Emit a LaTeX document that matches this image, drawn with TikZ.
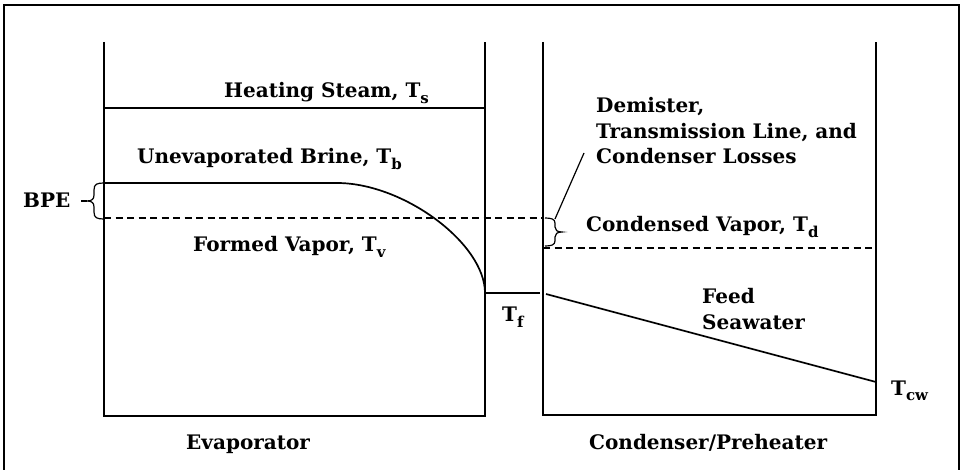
\documentclass[tikz,border=0pt]{standalone}
\usepackage{fontspec}
\setmainfont{DejaVu Serif}
\newcommand\lowsub[1]{\raisebox{-0.5ex}{\fontsize{15}{15}\selectfont #1}}
\begin{document}
\begin{tikzpicture}[x=1pt,y=-1pt,
  wall/.style={line width=1.7pt},
  level/.style={line width=1.7pt},
  vapourline/.style={line width=1.4pt, dash pattern=on 7pt off 4.5pt},
  bracemark/.style={line width=1.2pt},
  lbl/.style={font=\bfseries\fontsize{20}{24}\selectfont, inner sep=0pt, anchor=base west},
]
\useasboundingbox (0,0) rectangle (961,470);
% outer frame
\draw[line width=1.2pt] (4,472) -- (4,5) -- (959,5) -- (959,472);

% evaporator vessel
\coordinate (eTL) at (104,42);
\coordinate (eBL) at (104,416);
\coordinate (eBR) at (485,416);
\coordinate (eTR) at (485,42);
\draw[wall] (eTL) -- (eBL) -- (eBR) -- (eTR);

% condenser / preheater vessel
\coordinate (cTL) at (543,42);
\coordinate (cBL) at (543,415);
\coordinate (cBR) at (876,415);
\coordinate (cTR) at (876,42);
\draw[wall] (cTL) -- (cBL) -- (cBR) -- (cTR);

% temperature levels
\coordinate (steamL) at (104,108);
\coordinate (steamR) at (485,108);
\draw[level] (steamL) -- (steamR);

\coordinate (brineL) at (104,183);
\coordinate (brineK) at (337,183);
\coordinate (feedIn) at (485,293);
\draw[level] (brineL) -- (brineK) .. controls (403.6,183) and (485,243.5) .. (feedIn);

\coordinate (tfR) at (540,293);
\draw[level] (feedIn) -- (tfR);

\coordinate (swL) at (546,294);
\coordinate (swR) at (876,382);
\draw[level] (swL) -- (swR);

\coordinate (vapL) at (104,218);
\coordinate (vapR) at (543,218);
\draw[vapourline] (vapL) -- (vapR);

\coordinate (condL) at (543,248);
\coordinate (condR) at (876,248);
\draw[vapourline] (condL) -- (condR);

% boiling point elevation brace
\draw[bracemark] (104,183) .. controls (97,183) and (94,184) .. (94,190) -- (94,195)
  .. controls (94,199) and (92,201) .. (87,201)
  .. controls (92,201) and (94,203) .. (94,207) -- (94,212)
  .. controls (94,218) and (97,219) .. (104,219);
\coordinate (bpeTip) at (87,201);
\coordinate (bpeEnd) at (81,201);
\draw[bracemark] (bpeTip) -- (bpeEnd);

% losses brace in the condenser
\draw[bracemark] (545,218) .. controls (551,218) and (555,219) .. (555,223) -- (555,227)
  .. controls (555,230) and (557,232) .. (562,232)
  .. controls (557,232) and (555,234) .. (555,237) -- (555,241)
  .. controls (555,245) and (551,246) .. (545,246);

% labels
\node[lbl] (steam) at (224,98) {Heating Steam, T\lowsub{s}};
\node[lbl] (brine) at (137,164) {Unevaporated Brine, T\lowsub{b}};
\node[lbl] (vapor) at (193,252) {Formed Vapor, T\lowsub{v}};
\node[lbl] (bpe) at (23,208) {BPE};
\node[lbl] (demA) at (596,113) {Demister,};
\node[lbl] (demB) at (596,139) {Transmission Line, and};
\node[lbl] (demC) at (596,164) {Condenser Losses};
\node[lbl] (cvap) at (586,232) {Condensed Vapor, T\lowsub{d}};
\node[lbl] (tf) at (502,322) {T\lowsub{f}};
\node[lbl] (feed) at (702,304) {Feed};
\node[lbl] (sea) at (702,329) {Seawater};
\node[lbl] (tcw) at (891,395) {T\lowsub{cw}};
\node[lbl] (evap) at (186,449) {Evaporator};
\node[lbl] (cond) at (589,449) {Condenser/Preheater};

% leader from the losses text to its brace
\coordinate (leadTop) at (584,153);
\coordinate (leadEnd) at (555,219);
\draw[bracemark] (leadTop) -- (leadEnd);
\end{tikzpicture}
\end{document}
